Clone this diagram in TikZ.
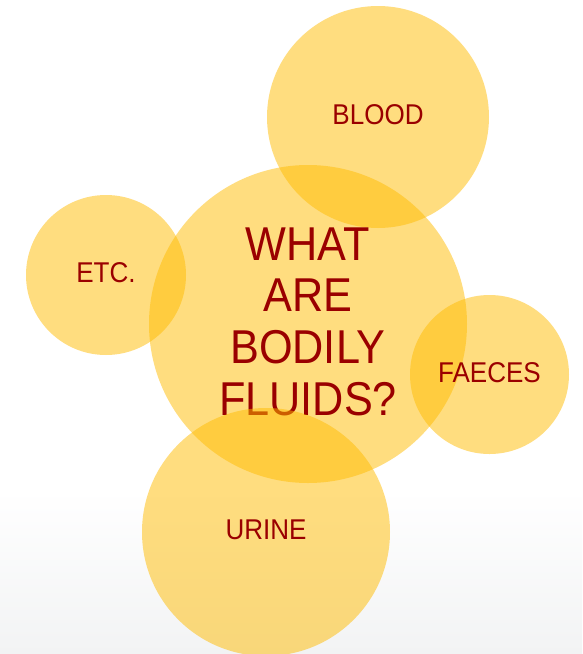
\documentclass[tikz,border=0pt]{standalone}
\usepackage{fontspec}
\setmainfont{Liberation Sans}[FakeStretch=0.91]
\usepackage{xcolor}
\usepackage{tikz}
\usetikzlibrary{positioning}
\definecolor{bubbleyellow}{HTML}{FFBC00}
\definecolor{fluidred}{HTML}{9A0000}
\definecolor{floorgray}{HTML}{F2F3F4}

\begin{document}
\begin{tikzpicture}[
    x=1pt, y=-1pt,
    bubble/.style={circle, fill=bubbleyellow, fill opacity=0.5, text opacity=1, inner sep=0pt, text=fluidred, text depth=4pt},
    small/.style={font=\fontsize{28.6}{32}\selectfont},
    every node/.style={align=center}
]
% Canvas
\useasboundingbox (0,0) rectangle (582,654);
\fill[white] (0,0) rectangle (582,654);
\shade[top color=white, bottom color=floorgray] (0,490) rectangle (582,654);

% Bubbles
\node[bubble, small, minimum size=222pt] (blood) at (378,117) {BLOOD};
\node[bubble, minimum size=318pt, text depth=5pt, font=\fontsize{47.5}{51.7}\selectfont] (question) at (308,324) {WHAT\\ARE\\BODILY\\FLUIDS?};
\node[bubble, small, minimum size=160pt] (etc) at (106,275) {ETC.};
\node[bubble, small, minimum size=159pt] (faeces) at (489.5,374.5) {FAECES};
\node[bubble, small, minimum size=248pt] (urine) at (266,532) {URINE};
\end{tikzpicture}
\end{document}
